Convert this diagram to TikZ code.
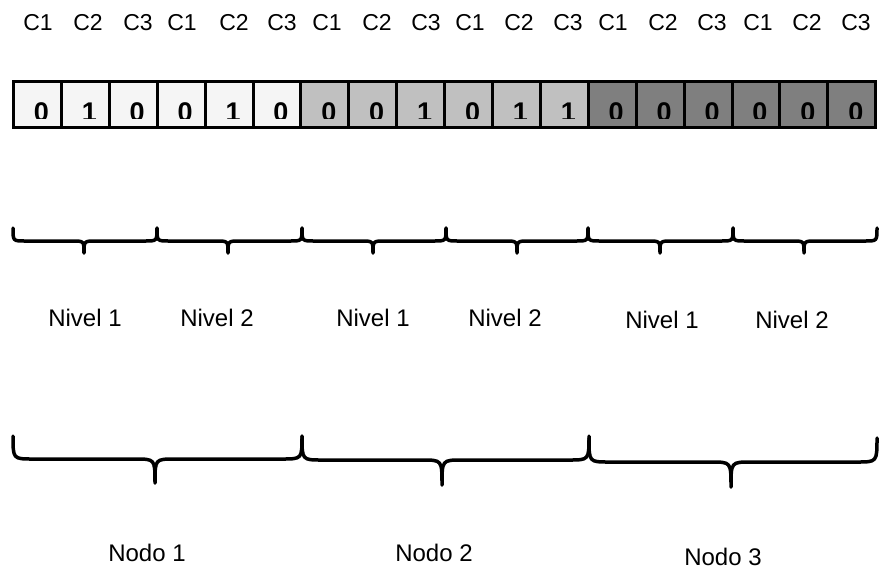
\documentclass[tikz,border=0pt]{standalone}
\usepackage{fontspec}
\setmainfont{Liberation Sans}
\newfontfamily\digitfont{Liberation Sans Bold}
\definecolor{g0}{HTML}{F5F5F5}
\definecolor{g1}{HTML}{C0C0C0}
\definecolor{g2}{HTML}{7F7F7F}
\tikzset{
  cellbox/.style={draw=none, minimum width=47.9pt, minimum height=46pt, inner sep=0pt, outer sep=0pt},
  digit/.style={font=\digitfont\fontsize{27}{30}\selectfont, inner sep=0pt, anchor=base},
  clabel/.style={font=\fontsize{23}{26}\selectfont, inner sep=0pt},
  lvlabel/.style={font=\fontsize{24}{27}\selectfont, inner sep=0pt},
  bracepath/.style={line width=3.5pt, line cap=round, line join=round},
}
\newcommand\mybrace[7]{% xL xR xM yT yL yP r
  \draw[bracepath] (#1,#4) .. controls (#1,#5) .. (#1+#7,#5) -- (#3-#7,#5)
     .. controls (#3,#5) .. (#3,#6) .. controls (#3,#5) .. (#3+#7,#5)
     -- (#2-#7,#5) .. controls (#2,#5) .. (#2,#4);}
\begin{document}
\begin{tikzpicture}[x=1pt,y=-1pt]
\useasboundingbox (0,0) rectangle (881,574);
% top labels
\foreach \x [count=\k from 0] in {38,88,138,182,234,282,327,377,426,470,519,568,613,663,712,758,807,856}{
  \pgfmathtruncatemacro\m{mod(\k,3)+1}
  \node[clabel] (lab\k) at (\x,23) {C\m};
}
% cells
\foreach \d [count=\i from 0] in {0,1,0,0,1,0,0,0,1,0,1,1,0,0,0,0,0,0}{
  \pgfmathtruncatemacro\g{\i/6}
  \pgfmathsetmacro\cx{13.5+47.9*\i+23.95}
  \node[cellbox, fill=g\g] (c\i) at (\cx,104.5) {};
}
\begin{scope}
  \clip (13.5,81.5) rectangle (875.7,118.5);
  \foreach \d [count=\i from 0] in {0,1,0,0,1,0,0,0,1,0,1,1,0,0,0,0,0,0}{
    \pgfmathsetmacro\dx{13.5+47.9*\i+23.95+4}
    \node[digit] (d\i) at (\dx,121.3) {\d};
  }
\end{scope}
\foreach \i in {1,...,17}{
  \draw[line width=3pt] (c\i.north west) -- (c\i.south west);
}
\draw[line width=3.5pt] (c0.north west) rectangle (c17.south east);
% level braces
\mybrace{13}{157}{84}{228}{241}{253}{12}
\mybrace{157}{302}{228}{228}{241}{253}{12}
\mybrace{302}{446}{373}{228}{241}{253}{12}
\mybrace{446}{588}{517}{228}{241}{253}{12}
\mybrace{588}{733}{660}{228}{241}{253}{12}
\mybrace{733}{877}{804}{228}{241}{253}{12}
\node[lvlabel] (n1a) at (85,318) {Nivel 1};
\node[lvlabel] (n2a) at (217,318) {Nivel 2};
\node[lvlabel] (n1b) at (373,318) {Nivel 1};
\node[lvlabel] (n2b) at (505,318) {Nivel 2};
\node[lvlabel] (n1c) at (662,320) {Nivel 1};
\node[lvlabel] (n2c) at (792,320) {Nivel 2};
% node braces
\mybrace{13}{302}{155}{436}{459}{483}{20}
\mybrace{302}{589}{442}{436}{460}{485}{20}
\mybrace{589}{877}{731}{438}{462}{487}{20}
\node[lvlabel] (nd1) at (147,553) {Nodo 1};
\node[lvlabel] (nd2) at (434,553) {Nodo 2};
\node[lvlabel] (nd3) at (723,557) {Nodo 3};
\end{tikzpicture}
\end{document}
